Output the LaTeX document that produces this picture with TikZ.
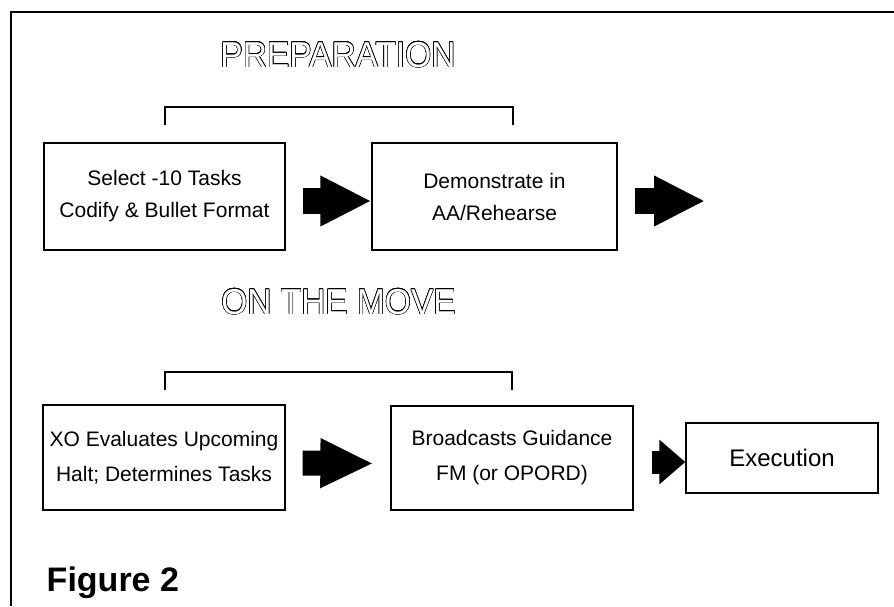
\documentclass[tikz,border=0pt]{standalone}
\usepackage{fontspec}
\setmainfont{Liberation Sans}
\newfontfamily\titlefont[FakeStretch=0.93]{Liberation Sans}
\usepackage{contour}
\usetikzlibrary{arrows.meta}
\contourlength{0.55pt}
\newcommand{\hollow}[1]{\contour{black}{\textcolor{white}{#1}}}

\begin{document}
\begin{tikzpicture}[x=1pt,y=-1pt,thick,
  stepbox/.style={draw,line width=1.3pt,inner sep=0pt,align=center,
    font=\fontsize{21}{32}\selectfont},
  title/.style={font=\titlefont\fontsize{36}{36}\selectfont},
  bigarrow/.style={line width=26pt,-{Triangle[length=51pt,width=47pt]}}]
\useasboundingbox (0,0) rectangle (894,606);
\draw[line width=2.5pt] (11,606) -- (11,12) -- (894,12);

\node[title] (prep) at (338,55) {\hollow{PREPARATION}};
\draw[line width=1.2pt] (165,125) -- (165,107) -- (513,107) -- (513,125);
\node[stepbox,minimum width=241pt,minimum height=107pt] (sel) at (164.5,196.5)
  {Select -10 Tasks\\Codify \& Bullet Format};
\node[stepbox,minimum width=245pt,minimum height=107pt] (demo) at (494.5,196.5)
  {Demonstrate in\\AA/Rehearse};
\coordinate (next) at (705,201);
\draw[bigarrow] ([xshift=17pt,yshift=-4.5pt]sel.east) -- ([yshift=-4.5pt]demo.west);
\draw[bigarrow] ([xshift=17pt,yshift=-4.5pt]demo.east) -- (next);

\node[title] (move) at (338.5,302) {\hollow{ON THE MOVE}};
\draw[line width=1.2pt] (165,390) -- (165,372) -- (512,372) -- (512,390);
\node[stepbox,minimum width=242pt,minimum height=105pt,
  font=\fontsize{21}{35}\selectfont] (xo) at (164,457.5)
  {XO Evaluates Upcoming\\Halt; Determines Tasks};
\node[stepbox,minimum width=242pt,minimum height=104pt,
  font=\fontsize{21}{35}\selectfont] (bcast) at (512,458)
  {Broadcasts Guidance\\FM (or OPORD)};
\node[stepbox,minimum width=192pt,minimum height=70pt,
  font=\fontsize{24}{24}\selectfont] (exec) at (782,458) {Execution};
\draw[bigarrow,line width=25pt,-{Triangle[length=53pt,width=46pt]}]
  ([xshift=17pt,yshift=-5.5pt]xo.east) -- ([xshift=-17pt,yshift=-5.5pt]bcast.west);
\draw[bigarrow,line width=23pt,-{Triangle[length=26pt,width=43pt]}]
  ([xshift=18pt,yshift=-4pt]bcast.east) -- ([yshift=-4pt]exec.west);

\node[anchor=base west,font=\bfseries\fontsize{34}{34}\selectfont] (fig) at (43,591) {Figure 2};
\end{tikzpicture}
\end{document}
